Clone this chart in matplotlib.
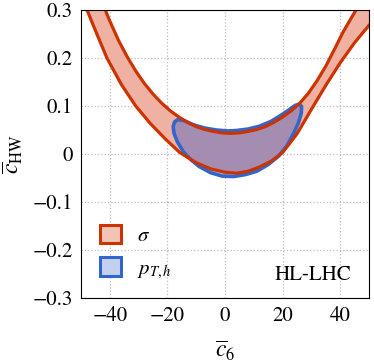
import matplotlib
matplotlib.use("Agg")
import matplotlib.pyplot as plt
from matplotlib.patches import Polygon, Patch

plt.rcParams["font.family"] = ["STIXGeneral", "DejaVu Serif"]
plt.rcParams["mathtext.fontset"] = "stix"

# sigma band: upper (inner) and lower (outer) edges
upper_c6 = [-43, -41.5, -40, -37, -34, -31, -28, -25, -22, -19, -16, -13,
            -10, -7, -4, -1, 2, 5, 8, 11, 14, 17, 20, 23, 26, 29, 32, 35, 38,
            41, 44, 45.5, 48]
upper_chw = [0.322, 0.299, 0.277, 0.237, 0.203, 0.173, 0.147, 0.125, 0.106,
             0.090, 0.077, 0.066, 0.057, 0.051, 0.047, 0.044, 0.043, 0.044,
             0.047, 0.051, 0.057, 0.066, 0.077, 0.090, 0.106, 0.127, 0.153,
             0.183, 0.218, 0.254, 0.285, 0.300, 0.330]
lower_c6 = [-50, -47.9, -44.5, -41, -36, -31, -26, -20.5, -15.7, -10, -5, 0,
            4, 8, 12, 16, 20, 25, 30, 35, 40, 45, 50, 53]
lower_chw = [0.335, 0.30, 0.25, 0.20, 0.145, 0.10, 0.064, 0.030, 0.003,
             -0.018, -0.031, -0.038, -0.040, -0.036, -0.027, -0.015, 0.003,
             0.042, 0.093, 0.143, 0.190, 0.232, 0.268, 0.290]

# pT,h closed contour
pt_c6 = [-18.0, -17.5, -16.3, -14, -11, -7, -3, 1, 4, 8, 12, 16, 19, 22,
         24.3, 25.8, 26.6, 26.5, 25.5, 24, 21.5, 18.5, 15, 11, 7, 3, -1, -5,
         -9, -12, -14.5, -16.5, -17.7]
pt_chw = [0.057, 0.067, 0.072, 0.069, 0.061, 0.054, 0.050, 0.048, 0.049,
          0.052, 0.058, 0.068, 0.079, 0.091, 0.101, 0.104, 0.099, 0.085,
          0.065, 0.045, 0.017, -0.005, -0.022, -0.036, -0.043, -0.047,
          -0.046, -0.039, -0.026, -0.011, 0.005, 0.025, 0.043]

red = "#cc3300"
red_fill = "#efb2a2"
blue = "#3366cc"

fig = plt.figure(figsize=(3.74, 3.64), dpi=100)
ax = fig.add_axes([0.2166, 0.1813, 0.77, 0.7912])

band = list(zip(upper_c6, upper_chw)) + list(zip(lower_c6, lower_chw))[::-1]
ax.add_patch(Polygon(band, closed=True, facecolor=red_fill, edgecolor="none"))
ax.plot(upper_c6, upper_chw, color=red, lw=2.3, solid_capstyle="round")
ax.plot(lower_c6, lower_chw, color=red, lw=2.3, solid_capstyle="round")

ax.add_patch(Polygon(list(zip(pt_c6, pt_chw)), closed=True,
                     facecolor=(0.38, 0.42, 0.76), alpha=0.52, edgecolor="none"))
ax.add_patch(Polygon(list(zip(pt_c6, pt_chw)), closed=True, facecolor="none",
                     edgecolor=blue, lw=2.6, joinstyle="round"))

ax.set_xlim(-50, 50)
ax.set_ylim(-0.3, 0.3)
ax.set_xticks([-40, -20, 0, 20, 40])
ax.set_yticks([-0.3, -0.2, -0.1, 0, 0.1, 0.2, 0.3])
ax.set_yticklabels(["\u22120.3", "\u22120.2", "\u22120.1", "0", "0.1", "0.2", "0.3"])
ax.set_xticklabels(["\u221240", "\u221220", "0", "20", "40"])
ax.tick_params(length=0, labelsize=15, pad=6)
ax.grid(True, ls=":", color="#bbbbbb", lw=0.9)
ax.set_axisbelow(True)

ax.set_xlabel(r"$\overline{c}_6$", fontsize=17, labelpad=9)
ax.set_ylabel(r"$\overline{c}_{\rm HW}$", fontsize=17, labelpad=5)

handles = [Patch(facecolor="#f2c4b8", edgecolor=red, lw=2.2),
           Patch(facecolor="#c4d0f0", edgecolor=blue, lw=2.2)]
ax.legend(handles, [r"$\sigma$", r"$p_{T,h}$"], loc="lower left",
          bbox_to_anchor=(0.0, -0.005), frameon=False, fontsize=15,
          handlelength=1.0, handleheight=1.0, labelspacing=0.55,
          handletextpad=0.8)
ax.text(0.94, 0.08, "HL-LHC", transform=ax.transAxes, ha="right",
        va="center", fontsize=15)

fig.savefig("out.png", dpi=100)
